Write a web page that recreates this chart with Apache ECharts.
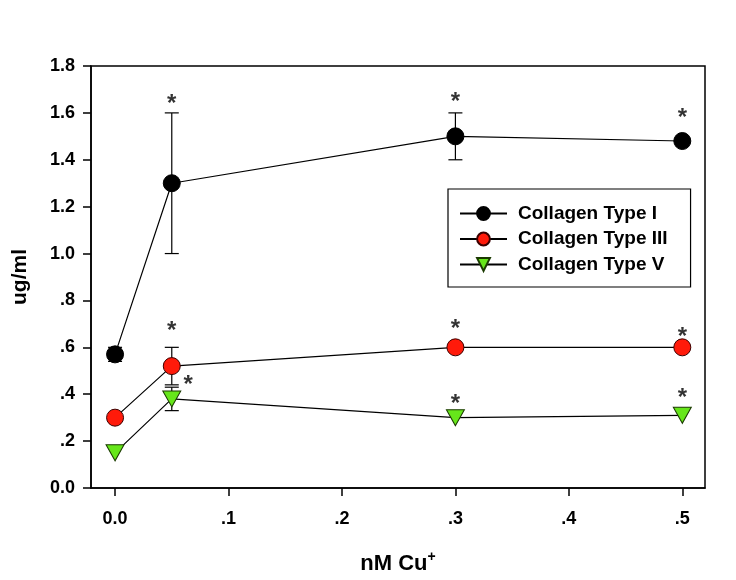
<!DOCTYPE html>
<html>
<head>
<meta charset="utf-8">
<script src="https://cdn.jsdelivr.net/npm/echarts@6/dist/echarts.min.js"></script>
<style>
  html, body { margin: 0; padding: 0; background: #fff; }
  #chart { width: 736px; height: 580px; }
</style>
</head>
<body>
<div id="chart"></div>
<script>
const doses = [0.0, 0.05, 0.3, 0.5];

const type1 = [0.57, 1.30, 1.50, 1.48];
const type1Err = [0.03, 0.30, 0.10, 0.01];
const type3 = [0.30, 0.52, 0.60, 0.60];
const type3Err = [0, 0.08, 0, 0];
const type5 = [0.15, 0.38, 0.30, 0.31];
const type5Err = [0, 0.05, 0, 0];

// where the significance stars sit (x, y in data units)
const stars = [
  [0.05, 1.66], [0.3, 1.672], [0.5, 1.604],
  [0.05, 0.694], [0.3, 0.702], [0.5, 0.668],
  [0.0644, 0.464], [0.3, 0.383], [0.5, 0.409]
];

const xTicks = [0, 0.1, 0.2, 0.3, 0.4, 0.5];
const xTickLabels = ['0.0', '.1', '.2', '.3', '.4', '.5'];
const yTickLabels = ['0.0', '.2', '.4', '.6', '.8', '1.0', '1.2', '1.4', '1.6', '1.8'];

const FONT = 'Liberation Sans, Arial, sans-serif';

const chart = echarts.init(document.getElementById('chart'));

const pts = (ys) => doses.map((x, i) => [x, ys[i]]);
const errData = (ys, es) => doses.map((x, i) => [x, ys[i] - es[i], ys[i] + es[i]]).filter((d, i) => es[i] > 0);

function errorBar(params, api) {
  const lo = api.coord([api.value(0), api.value(1)]);
  const hi = api.coord([api.value(0), api.value(2)]);
  const w = 7;
  const style = { stroke: '#000', lineWidth: 1.2 };
  return {
    type: 'group',
    children: [
      { type: 'line', shape: { x1: lo[0], y1: lo[1], x2: hi[0], y2: hi[1] }, style },
      { type: 'line', shape: { x1: lo[0] - w, y1: lo[1], x2: lo[0] + w, y2: lo[1] }, style },
      { type: 'line', shape: { x1: hi[0] - w, y1: hi[1], x2: hi[0] + w, y2: hi[1] }, style }
    ]
  };
}

const lineBase = {
  type: 'line',
  lineStyle: { color: '#000', width: 1.2 },
  z: 3,
  animation: false
};

chart.setOption({
  backgroundColor: '#fff',
  animation: false,
  grid: {
    left: 91, right: 31, top: 66, bottom: 90,
    show: true, borderColor: '#000', borderWidth: 1.5, backgroundColor: 'transparent'
  },
  legend: {
    orient: 'vertical',
    left: 448, top: 189,
    padding: [15, 23, 13, 11],
    itemGap: 6.5,
    itemWidth: 47,
    itemHeight: 16,
    borderColor: '#000',
    borderWidth: 1.2,
    textStyle: {
      fontFamily: FONT, fontWeight: 'bold', fontSize: 19, lineHeight: 19,
      color: '#000', padding: [0, 0, 0, 6]
    },
    data: ['Collagen Type I', 'Collagen Type III', 'Collagen Type V']
  },
  xAxis: {
    type: 'value',
    min: -0.0212,
    max: 0.52,
    name: 'nM Cu{sup|+}',
    nameLocation: 'middle',
    nameGap: 62,
    nameTextStyle: {
      fontFamily: FONT, fontWeight: 'bold', fontSize: 22, color: '#000',
      rich: { sup: { fontFamily: FONT, fontWeight: 'bold', fontSize: 14, verticalAlign: 'top', padding: [0, 0, 14, 0] } }
    },
    splitLine: { show: false },
    axisLine: { onZero: false, lineStyle: { color: '#000', width: 1.5 } },
    axisTick: { customValues: xTicks, length: 8, lineStyle: { color: '#000', width: 1.5 } },
    axisLabel: {
      customValues: xTicks,
      formatter: (v) => xTickLabels[xTicks.findIndex(t => Math.abs(t - v) < 1e-6)],
      margin: 22,
      fontFamily: FONT, fontWeight: 'bold', fontSize: 18, color: '#000'
    }
  },
  yAxis: {
    type: 'value',
    min: 0,
    max: 1.8,
    interval: 0.2,
    name: 'ug/ml',
    nameLocation: 'middle',
    nameGap: 60,
    nameTextStyle: { fontFamily: FONT, fontWeight: 'bold', fontSize: 21, color: '#000' },
    splitLine: { show: false },
    axisLine: { onZero: false, lineStyle: { color: '#000', width: 1.5 } },
    axisTick: { length: 8, lineStyle: { color: '#000', width: 1.5 } },
    axisLabel: {
      formatter: (v, i) => yTickLabels[i],
      margin: 16,
      fontFamily: FONT, fontWeight: 'bold', fontSize: 18, color: '#000'
    }
  },
  series: [
    {
      type: 'custom', name: 'err1', renderItem: errorBar, data: errData(type1, type1Err),
      encode: { x: 0, y: [1, 2] }, z: 2, silent: true
    },
    {
      type: 'custom', name: 'err3', renderItem: errorBar, data: errData(type3, type3Err),
      encode: { x: 0, y: [1, 2] }, z: 2, silent: true
    },
    {
      type: 'custom', name: 'err5', renderItem: errorBar, data: errData(type5, type5Err),
      encode: { x: 0, y: [1, 2] }, z: 2, silent: true
    },
    Object.assign({}, lineBase, {
      name: 'Collagen Type I',
      data: pts(type1),
      symbol: 'circle', symbolSize: 17,
      itemStyle: { color: '#000', borderColor: '#000', borderWidth: 1 }
    }),
    Object.assign({}, lineBase, {
      name: 'Collagen Type III',
      data: pts(type3),
      symbol: 'circle', symbolSize: 17,
      itemStyle: { color: '#ff1a0a', borderColor: '#3a0000', borderWidth: 1 }
    }),
    Object.assign({}, lineBase, {
      name: 'Collagen Type V',
      data: pts(type5),
      symbol: 'triangle', symbolRotate: 180, symbolSize: [18, 16],
      itemStyle: { color: '#66e61a', borderColor: '#1a3a00', borderWidth: 1 }
    }),
    {
      type: 'scatter',
      name: 'stars',
      data: stars,
      symbolSize: 1,
      itemStyle: { color: 'transparent' },
      label: {
        show: true, position: 'inside', formatter: '*', offset: [0, 6],
        fontFamily: FONT, fontWeight: 'bold', fontSize: 24, color: '#000'
      },
      silent: true, z: 4
    }
  ]
});
</script>
</body>
</html>
